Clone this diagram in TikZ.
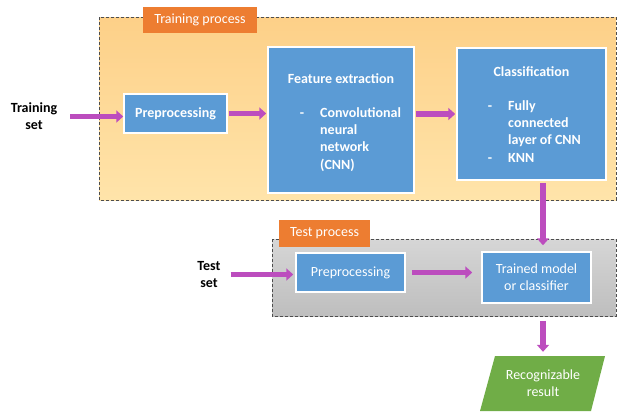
\documentclass[tikz,border=0pt]{standalone}
\usepackage{fontspec}
\setmainfont{Carlito}
\usetikzlibrary{arrows.meta}
\definecolor{boxblue}{HTML}{5B9BD5}
\definecolor{tagorange}{HTML}{ED7D31}
\definecolor{flowpink}{HTML}{BC4DBE}
\definecolor{resgreen}{HTML}{70AD47}
\definecolor{dashgray}{HTML}{4D4D4D}
\definecolor{trainTop}{HTML}{FDD088}
\definecolor{trainBot}{HTML}{FFE4AA}
\definecolor{testTop}{HTML}{D6D6D6}
\definecolor{testBot}{HTML}{BEBEBE}
\tikzset{
  txt/.style={font=\fontsize{14}{17}\selectfont, inner sep=0pt},
  bold/.style={txt, font=\fontsize{14}{17}\selectfont\bfseries, align=center},
  bluebox/.style={draw=white, line width=1.5pt, fill=boxblue, inner sep=0pt,
    text=white, align=center, font=\fontsize{14}{17}\selectfont},
  tag/.style={fill=tagorange, text=white, inner sep=0pt,
    font=\fontsize{14}{17}\selectfont},
  area/.style={draw=dashgray, line width=0.9pt, dash pattern=on 3pt off 2pt},
  flow/.style={draw=flowpink, line width=5.5pt,
    -{Triangle[width=12pt,length=7pt]}},
  wt/.style={text=white, inner sep=0pt, font=\fontsize{14}{17.2}\selectfont\bfseries},
}
\begin{document}
\begin{tikzpicture}[x=1pt,y=-1pt]
\useasboundingbox (0,0) rectangle (617,413);

% training area
\path[area, top color=trainTop, bottom color=trainBot] (99,17) rectangle (616,200);
\node[tag, minimum width=114pt, minimum height=26pt] (ttag) at (200,20) {Training process};

% test area
\path[area, top color=testTop, bottom color=testBot] (272,239) rectangle (616,316);
\node[tag, minimum width=91pt, minimum height=27pt] (qtag) at (324.5,233.5) {Test process};

% training chain
\node[bold] (tset) at (34,116.5) {Training\\set};
\node[bluebox, font=\fontsize{14}{17}\selectfont\bfseries,
  minimum width=103pt, minimum height=39pt] (pre1) at (175.5,113.5) {Preprocessing};
\node[bluebox, minimum width=146pt, minimum height=146pt] (feat) at (341,120) {};
\node[bluebox, minimum width=149pt, minimum height=132pt] (cls) at (531.5,114) {};

\node[wt] (feattitle) at (341,79) {Feature extraction};
\node[wt, anchor=base] (featdash) at (302,117.5) {-};
% multi-line nodes: the base anchor sits on the last line
\node[wt, anchor=base west, align=left] (featlist) at (320,169.1)
  {Convolutional\\neural\\network\\(CNN)};

\node[wt] (clstitle) at (531.5,72) {Classification};
\node[wt, anchor=base] (clsdash1) at (490,110.5) {-};
\node[wt, anchor=base] (clsdash2) at (490,162.1) {-};
\node[wt, anchor=base west, align=left] (clslist) at (508,162.1)
  {Fully\\connected\\layer of CNN\\KNN};

% test chain
\node[bold] (tst) at (209,274.5) {Test\\set};
\node[bluebox, minimum width=109pt, minimum height=39pt] (pre2) at (350.5,272.5) {Preprocessing};
\node[bluebox, minimum width=109pt, minimum height=51pt] (trained) at (536.5,277.5)
  {Trained model\\or classifier};

% result parallelogram
\path[fill=resgreen] (495,356) -- (605,356) -- (591,411) -- (480,411) -- cycle;
\node[txt, text=white, align=center, minimum width=110pt, minimum height=55pt]
  (res) at (543,383.5) {Recognizable\\result};

% connectors
\draw[flow, shorten <=13pt] (tset.east) -- (tset.east -| pre1.west);
\draw[flow, shorten <=1pt, shorten >=1pt] (pre1.east) -- (pre1.east -| feat.west);
\draw[flow, shorten <=1pt, shorten >=1pt] (cls.west -| feat.east) -- (cls.west);
\draw[flow, shorten <=2pt, shorten >=6pt] (cls.south -| res.north) -- (trained.north -| res.north);
\draw[flow, shorten <=10pt, shorten >=2pt] (tst.east) -- (tst.east -| pre2.west);
\draw[flow, shorten <=6pt, shorten >=9pt] (pre2.east) -- (pre2.east -| trained.west);
\draw[flow, shorten <=17pt, shorten >=4pt] (trained.south -| res.north) -- (res.north);
\end{tikzpicture}
\end{document}
